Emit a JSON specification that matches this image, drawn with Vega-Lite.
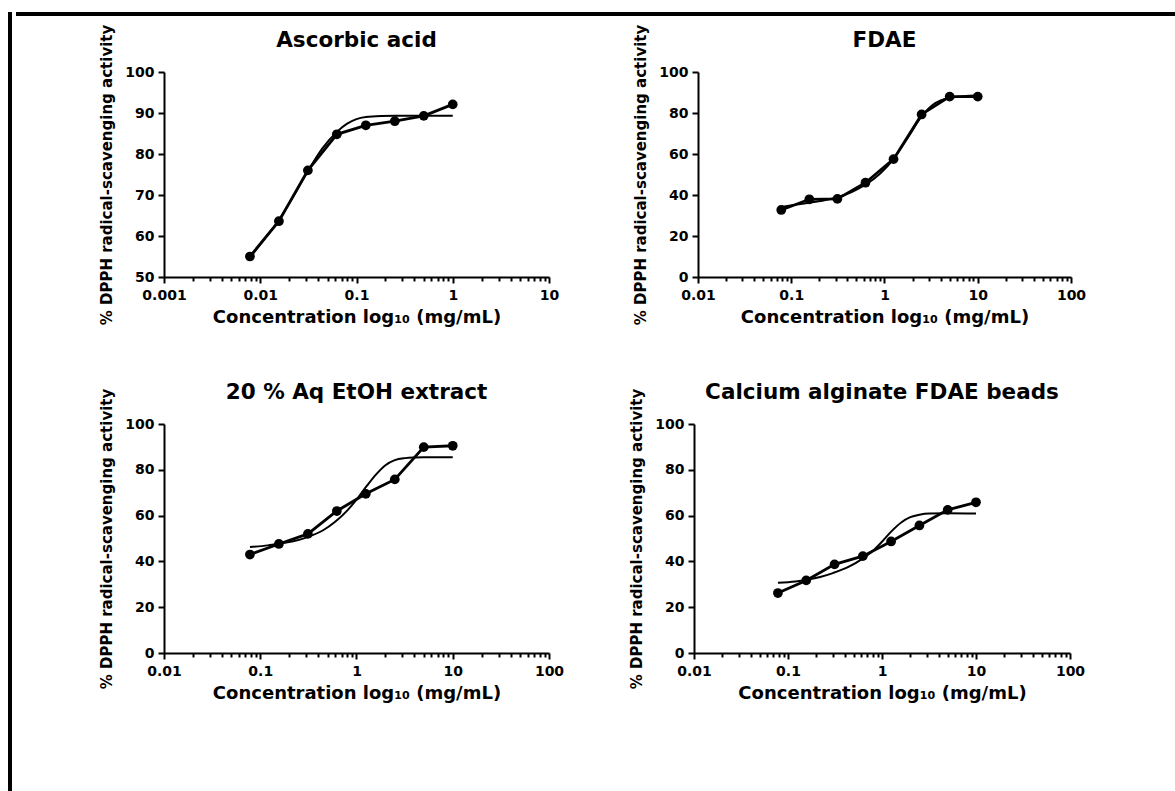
{
  "$schema": "https://vega.github.io/schema/vega-lite/v6.json",
  "padding": {"left": 7, "top": 11, "right": 0, "bottom": 0},
  "background": "white",
  "datasets": {
    "asc_obs": [
      {"conc": 0.0078125, "act": 55.0}, {"conc": 0.015625, "act": 63.6}, {"conc": 0.03125, "act": 76.0}, {"conc": 0.0625, "act": 84.8},
      {"conc": 0.125, "act": 87.0}, {"conc": 0.25, "act": 88.0}, {"conc": 0.5, "act": 89.3}, {"conc": 1, "act": 92.1}
    ],
    "asc_fit": [
      {"conc": 0.0078125, "act": 54.7}, {"conc": 0.011, "act": 59.2}, {"conc": 0.015625, "act": 63.9}, {"conc": 0.022, "act": 69.6},
      {"conc": 0.03125, "act": 75.8}, {"conc": 0.044, "act": 81.3}, {"conc": 0.0625, "act": 85.4}, {"conc": 0.08, "act": 87.4},
      {"conc": 0.1, "act": 88.5}, {"conc": 0.125, "act": 89.0}, {"conc": 0.18, "act": 89.25}, {"conc": 0.25, "act": 89.3},
      {"conc": 0.5, "act": 89.3}, {"conc": 1, "act": 89.3}
    ],
    "fdae_obs": [
      {"conc": 0.078125, "act": 32.7}, {"conc": 0.15625, "act": 37.9}, {"conc": 0.3125, "act": 38.1}, {"conc": 0.625, "act": 46.0},
      {"conc": 1.25, "act": 57.5}, {"conc": 2.5, "act": 79.3}, {"conc": 5, "act": 88.0}, {"conc": 10, "act": 88.0}
    ],
    "fdae_fit": [
      {"conc": 0.078125, "act": 34.2}, {"conc": 0.11, "act": 35.2}, {"conc": 0.15625, "act": 36.2}, {"conc": 0.22, "act": 37.3},
      {"conc": 0.3125, "act": 38.9}, {"conc": 0.45, "act": 41.6}, {"conc": 0.625, "act": 45.0}, {"conc": 0.9, "act": 50.5},
      {"conc": 1.25, "act": 57.5}, {"conc": 1.8, "act": 68.3}, {"conc": 2.5, "act": 78.3}, {"conc": 3.5, "act": 84.8},
      {"conc": 5, "act": 87.4}, {"conc": 7, "act": 88.2}, {"conc": 10, "act": 88.5}
    ],
    "aq_obs": [
      {"conc": 0.078125, "act": 43.0}, {"conc": 0.15625, "act": 47.6}, {"conc": 0.3125, "act": 52.0}, {"conc": 0.625, "act": 62.0},
      {"conc": 1.25, "act": 69.5}, {"conc": 2.5, "act": 75.8}, {"conc": 5, "act": 89.9}, {"conc": 10, "act": 90.5}
    ],
    "aq_fit": [
      {"conc": 0.078125, "act": 46.3}, {"conc": 0.12, "act": 47.0}, {"conc": 0.16, "act": 47.8}, {"conc": 0.22, "act": 48.8},
      {"conc": 0.3, "act": 50.4}, {"conc": 0.45, "act": 53.6}, {"conc": 0.6, "act": 57.3}, {"conc": 0.8, "act": 62.2},
      {"conc": 1.0, "act": 67.0}, {"conc": 1.25, "act": 72.4}, {"conc": 1.6, "act": 78.0}, {"conc": 2.0, "act": 82.0},
      {"conc": 2.5, "act": 84.2}, {"conc": 3.2, "act": 85.1}, {"conc": 4, "act": 85.4}, {"conc": 5, "act": 85.5}, {"conc": 10, "act": 85.5}
    ],
    "ca_obs": [
      {"conc": 0.078125, "act": 26.2}, {"conc": 0.15625, "act": 31.7}, {"conc": 0.3125, "act": 38.7}, {"conc": 0.625, "act": 42.3},
      {"conc": 1.25, "act": 48.7}, {"conc": 2.5, "act": 55.7}, {"conc": 5, "act": 62.5}, {"conc": 10, "act": 65.8}
    ],
    "ca_fit": [
      {"conc": 0.078125, "act": 30.7}, {"conc": 0.12, "act": 31.2}, {"conc": 0.16, "act": 32.0}, {"conc": 0.22, "act": 33.2},
      {"conc": 0.3, "act": 34.9}, {"conc": 0.45, "act": 37.8}, {"conc": 0.6, "act": 40.8}, {"conc": 0.8, "act": 44.6},
      {"conc": 1.0, "act": 48.6}, {"conc": 1.25, "act": 53.0}, {"conc": 1.6, "act": 57.0}, {"conc": 2.0, "act": 59.3},
      {"conc": 2.5, "act": 60.4}, {"conc": 3.2, "act": 60.9}, {"conc": 5, "act": 61.0}, {"conc": 10, "act": 60.9}
    ]
  },
  "spacing": 0,
  "hconcat": [
    {"width": 4, "height": 780, "data": {"values": [{}]}, "mark": {"type": "point", "opacity": 0}, "encoding": {}, "view": {"fill": "black", "stroke": null}},
    {
      "spacing": 7,
      "vconcat": [
        {"width": 1164, "height": 4, "data": {"values": [{}]}, "mark": {"type": "point", "opacity": 0}, "encoding": {}, "view": {"fill": "black", "stroke": null}},
        {
          "spacing": 79,
          "hconcat": [
            {"width": 1, "height": 1, "data": {"values": [{}]}, "mark": {"type": "point", "opacity": 0}, "encoding": {}},
            {
              "spacing": 56,
              "vconcat": [
                {
                  "bounds": "flush",
                  "spacing": 149,
                  "hconcat": [
                    {
                      "width": 385, "height": 205,
                      "title": {"text": "Ascorbic acid", "offset": -27.5},
                      "encoding": {
                        "y": {"field": "act", "type": "quantitative", "scale": {"domain": [50, 100], "nice": false, "zero": false},
                              "axis": {"values": [50, 60, 70, 80, 90, 100], "title": "% DPPH radical-scavenging activity"}}
                      },
                      "layer": [
                        {"data": {"name": "asc_fit"}, "mark": {"type": "line", "interpolate": "monotone", "strokeWidth": 2, "color": "black"},
                         "encoding": {"x": {"field": "conc", "type": "quantitative", "scale": {"type": "log", "domain": [0.001, 10], "nice": false},
                           "axis": {"orient": "bottom", "values": [0.002,0.003,0.004,0.005,0.006,0.007,0.008,0.009,0.02,0.03,0.04,0.05,0.06,0.07,0.08,0.09,0.2,0.3,0.4,0.5,0.6,0.7,0.8,0.9,2,3,4,5,6,7,8,9], "labels": false, "domain": false, "tickSize": 4, "title": null}}}},
                        {"data": {"name": "asc_obs"}, "mark": {"type": "line", "strokeWidth": 2.8, "color": "black"},
                         "encoding": {"x": {"field": "conc", "type": "quantitative", "scale": {"type": "log", "domain": [0.001, 10], "nice": false},
                           "axis": {"orient": "bottom", "values": [0.001, 0.01, 0.1, 1, 10], "format": "~g", "title": "Concentration log₁₀ (mg/mL)"}}}},
                        {"data": {"name": "asc_obs"}, "mark": {"type": "circle", "size": 95, "color": "black", "opacity": 1},
                         "encoding": {"x": {"field": "conc", "type": "quantitative", "scale": {"type": "log", "domain": [0.001, 10], "nice": false}, "axis": null}}}
                      ],
                      "resolve": {"axis": {"x": "independent"}}
                    },
                    {
                      "width": 373, "height": 205,
                      "title": {"text": "FDAE", "offset": -27.5},
                      "encoding": {
                        "y": {"field": "act", "type": "quantitative", "scale": {"domain": [0, 100], "nice": false, "zero": false},
                              "axis": {"values": [0, 20, 40, 60, 80, 100], "title": "% DPPH radical-scavenging activity"}}
                      },
                      "layer": [
                        {"data": {"name": "fdae_fit"}, "mark": {"type": "line", "interpolate": "monotone", "strokeWidth": 2, "color": "black"},
                         "encoding": {"x": {"field": "conc", "type": "quantitative", "scale": {"type": "log", "domain": [0.01, 100], "nice": false},
                           "axis": {"orient": "bottom", "values": [0.02,0.03,0.04,0.05,0.06,0.07,0.08,0.09,0.2,0.3,0.4,0.5,0.6,0.7,0.8,0.9,2,3,4,5,6,7,8,9,20,30,40,50,60,70,80,90], "labels": false, "domain": false, "tickSize": 4, "title": null}}}},
                        {"data": {"name": "fdae_obs"}, "mark": {"type": "line", "strokeWidth": 2.8, "color": "black"},
                         "encoding": {"x": {"field": "conc", "type": "quantitative", "scale": {"type": "log", "domain": [0.01, 100], "nice": false},
                           "axis": {"orient": "bottom", "values": [0.01, 0.1, 1, 10, 100], "format": "~g", "title": "Concentration log₁₀ (mg/mL)"}}}},
                        {"data": {"name": "fdae_obs"}, "mark": {"type": "circle", "size": 95, "color": "black", "opacity": 1},
                         "encoding": {"x": {"field": "conc", "type": "quantitative", "scale": {"type": "log", "domain": [0.01, 100], "nice": false}, "axis": null}}}
                      ],
                      "resolve": {"axis": {"x": "independent"}}
                    }
                  ]
                },
                {
                  "bounds": "flush",
                  "spacing": 145,
                  "hconcat": [
                    {
                      "width": 385, "height": 229,
                      "title": {"text": "20 % Aq EtOH extract", "offset": -15.5},
                      "encoding": {
                        "y": {"field": "act", "type": "quantitative", "scale": {"domain": [0, 100], "nice": false, "zero": false},
                              "axis": {"values": [0, 20, 40, 60, 80, 100], "title": "% DPPH radical-scavenging activity"}}
                      },
                      "layer": [
                        {"data": {"name": "aq_fit"}, "mark": {"type": "line", "interpolate": "monotone", "strokeWidth": 2, "color": "black"},
                         "encoding": {"x": {"field": "conc", "type": "quantitative", "scale": {"type": "log", "domain": [0.01, 100], "nice": false},
                           "axis": {"orient": "bottom", "values": [0.02,0.03,0.04,0.05,0.06,0.07,0.08,0.09,0.2,0.3,0.4,0.5,0.6,0.7,0.8,0.9,2,3,4,5,6,7,8,9,20,30,40,50,60,70,80,90], "labels": false, "domain": false, "tickSize": 4, "title": null}}}},
                        {"data": {"name": "aq_obs"}, "mark": {"type": "line", "strokeWidth": 2.8, "color": "black"},
                         "encoding": {"x": {"field": "conc", "type": "quantitative", "scale": {"type": "log", "domain": [0.01, 100], "nice": false},
                           "axis": {"orient": "bottom", "values": [0.01, 0.1, 1, 10, 100], "format": "~g", "title": "Concentration log₁₀ (mg/mL)"}}}},
                        {"data": {"name": "aq_obs"}, "mark": {"type": "circle", "size": 95, "color": "black", "opacity": 1},
                         "encoding": {"x": {"field": "conc", "type": "quantitative", "scale": {"type": "log", "domain": [0.01, 100], "nice": false}, "axis": null}}}
                      ],
                      "resolve": {"axis": {"x": "independent"}}
                    },
                    {
                      "width": 376, "height": 229,
                      "title": {"text": "Calcium alginate FDAE beads", "offset": -15.5},
                      "encoding": {
                        "y": {"field": "act", "type": "quantitative", "scale": {"domain": [0, 100], "nice": false, "zero": false},
                              "axis": {"values": [0, 20, 40, 60, 80, 100], "title": "% DPPH radical-scavenging activity"}}
                      },
                      "layer": [
                        {"data": {"name": "ca_fit"}, "mark": {"type": "line", "interpolate": "monotone", "strokeWidth": 2, "color": "black"},
                         "encoding": {"x": {"field": "conc", "type": "quantitative", "scale": {"type": "log", "domain": [0.01, 100], "nice": false},
                           "axis": {"orient": "bottom", "values": [0.02,0.03,0.04,0.05,0.06,0.07,0.08,0.09,0.2,0.3,0.4,0.5,0.6,0.7,0.8,0.9,2,3,4,5,6,7,8,9,20,30,40,50,60,70,80,90], "labels": false, "domain": false, "tickSize": 4, "title": null}}}},
                        {"data": {"name": "ca_obs"}, "mark": {"type": "line", "strokeWidth": 2.8, "color": "black"},
                         "encoding": {"x": {"field": "conc", "type": "quantitative", "scale": {"type": "log", "domain": [0.01, 100], "nice": false},
                           "axis": {"orient": "bottom", "values": [0.01, 0.1, 1, 10, 100], "format": "~g", "title": "Concentration log₁₀ (mg/mL)"}}}},
                        {"data": {"name": "ca_obs"}, "mark": {"type": "circle", "size": 95, "color": "black", "opacity": 1},
                         "encoding": {"x": {"field": "conc", "type": "quantitative", "scale": {"type": "log", "domain": [0.01, 100], "nice": false}, "axis": null}}}
                      ],
                      "resolve": {"axis": {"x": "independent"}}
                    }
                  ]
                }
              ]
            }
          ]
        }
      ]
    }
  ],
  "config": {
    "view": {"stroke": null},
    "font": "DejaVu Sans",
    "axis": {
      "domainColor": "black", "domainWidth": 2, "tickColor": "black", "tickWidth": 2, "tickSize": 6,
      "labelFont": "DejaVu Sans", "labelFontWeight": "bold", "labelFontSize": 14, "labelColor": "black",
      "titleFont": "DejaVu Sans", "titleFontWeight": "bold", "titleColor": "black", "grid": false,
      "labelOverlap": false
    },
    "axisX": {"titleFontSize": 18, "labelPadding": 5, "titlePadding": 6, "labelFlush": false},
    "axisY": {"titleFontSize": 15, "labelPadding": 4, "titlePadding": 10},
    "title": {"font": "DejaVu Sans", "fontWeight": "bold", "fontSize": 21.5, "color": "black", "anchor": "middle", "frame": "group", "baseline": "alphabetic"}
  }
}
